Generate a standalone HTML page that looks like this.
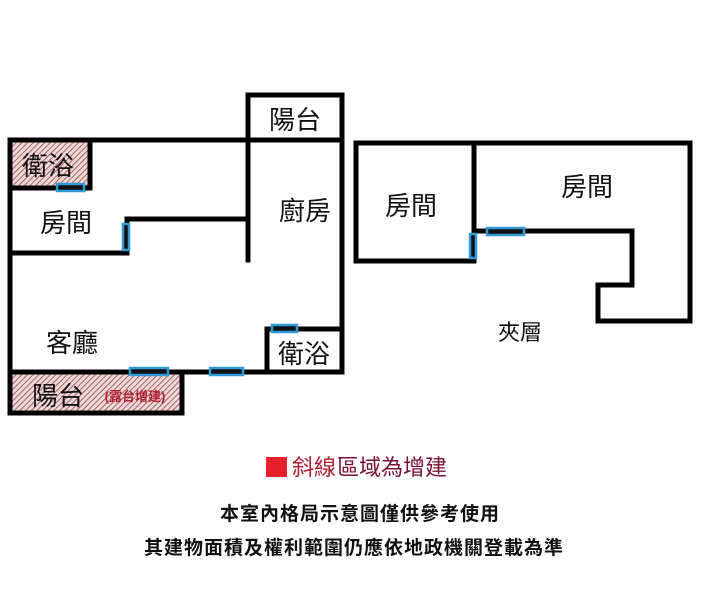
<!DOCTYPE html>
<html><head><meta charset="utf-8"><style>
html,body{margin:0;padding:0;background:#fff;}
svg{display:block;}
text{font-family:"Liberation Sans","Noto Sans CJK TC",sans-serif;}
</style></head><body>
<svg width="702" height="604" viewBox="0 0 702 604" xmlns="http://www.w3.org/2000/svg">
<defs>
<pattern id="h" width="4" height="4" patternUnits="userSpaceOnUse" patternTransform="rotate(45)">
<rect width="4" height="4" fill="#f0d8d8"/>
<line x1="0" y1="0" x2="0" y2="4" stroke="#8a4040" stroke-width="1.5"/>
</pattern>
</defs>
<rect x="9" y="140" width="81" height="48" fill="url(#h)"/>
<rect x="9" y="372" width="173" height="41" fill="url(#h)"/>
<g stroke="#000" stroke-width="5" fill="none" stroke-linecap="square">
<rect x="248" y="95" width="94" height="45"/>
<path d="M10 140 H342 V372 H10 Z"/>
<path d="M10 188 H90 V140"/>
<path d="M10 253 H127 V219 H248"/>
<path d="M248 140 V260"/>
<path d="M267 372 V329 H342"/>
<path d="M10 372 V413 H182 V372"/>
<path d="M356 143 H690 V321 H598 V285 H632 V231 H474"/>
<path d="M356 143 V261 H474 V143"/>
</g>
<g fill="#111" stroke="#2e9bd6" stroke-width="2.5">
<rect x="57" y="184" width="27" height="7"/>
<rect x="123" y="224" width="6" height="26"/>
<rect x="272" y="325" width="25" height="7"/>
<rect x="130" y="368" width="38" height="7"/>
<rect x="210" y="368" width="33" height="7"/>
<rect x="487" y="228" width="37" height="7"/>
<rect x="470" y="234" width="6" height="24"/>
</g>
<g font-size="26" fill="#111" text-anchor="middle">
<text x="295" y="129">陽台</text>
<text x="48" y="175">衛浴</text>
<text x="66" y="232">房間</text>
<text x="305" y="220">廚房</text>
<text x="72" y="352">客廳</text>
<text x="304" y="363">衛浴</text>
<text x="58" y="405">陽台</text>
<text x="411" y="215">房間</text>
<text x="587" y="196">房間</text>
<text x="520" y="340" font-size="22">夾層</text>
</g>
<text x="135" y="401" font-size="13" fill="#b02030" text-anchor="middle" font-weight="bold">(露台增建)</text>
<rect x="266" y="457" width="21" height="20" fill="#e5202a"/>
<text x="292" y="475" font-size="22" fill="#b02030">斜線</text>
<text x="337" y="475" font-size="22" fill="#7a1030">區域為增建</text>
<g font-size="19" font-weight="bold" fill="#111" text-anchor="middle" letter-spacing="1">
<text x="360" y="520">本室內格局示意圖僅供參考使用</text>
<text x="354" y="554">其建物面積及權利範圍仍應依地政機關登載為準</text>
</g>
</svg>
</body></html>
